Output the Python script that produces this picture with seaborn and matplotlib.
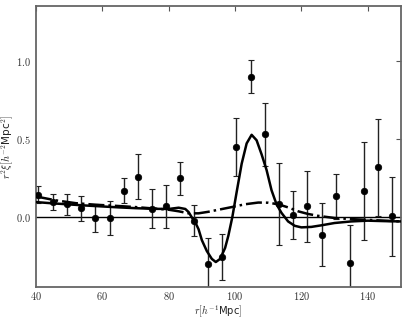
import matplotlib
matplotlib.use("Agg")
import matplotlib.pyplot as plt
import seaborn as sns
import pandas as pd
from matplotlib.ticker import FuncFormatter

# Data points with error bars
r_data = [40.6, 45.0, 49.2, 53.5, 57.9, 62.2, 66.4, 70.7, 74.9, 79.2, 83.5, 87.7, 91.9,
          96.2, 100.4, 104.7, 109.0, 113.2, 117.5, 121.8, 126.1, 130.3, 134.6, 138.9, 143.2, 147.4]
xi_data = [0.14, 0.094, 0.081, 0.055, -0.008, -0.008, 0.168, 0.257, 0.051, 0.066, 0.246, -0.025, -0.301,
           -0.257, 0.446, 0.898, 0.527, 0.081, 0.013, 0.066, -0.115, 0.13, -0.295, 0.165, 0.317, 0.002]
xi_err = [0.055, 0.05, 0.067, 0.08, 0.09, 0.11, 0.078, 0.145, 0.124, 0.135, 0.105, 0.1, 0.165,
          0.149, 0.185, 0.105, 0.2, 0.265, 0.155, 0.225, 0.2, 0.143, 0.245, 0.315, 0.31, 0.255]

# Solid model curve
r_solid = [40, 45, 50, 55, 60, 65, 70, 75, 80, 83, 85, 86, 87, 88, 89, 90, 91.5, 93, 94.2, 95.5,
           97, 98, 99.2, 100.5, 102, 103.5, 105, 106.5, 108, 109.5, 111, 112.5, 114, 116, 118,
           120, 123, 126, 130, 135, 140, 145, 150]
xi_solid = [0.094, 0.086, 0.079, 0.072, 0.066, 0.06, 0.055, 0.051, 0.05, 0.058, 0.05, 0.03, -0.005,
            -0.035, -0.08, -0.15, -0.22, -0.27, -0.29, -0.27, -0.2, -0.12, 0.0, 0.16, 0.34, 0.47,
            0.525, 0.49, 0.4, 0.3, 0.17, 0.08, 0.025, -0.03, -0.058, -0.068, -0.065, -0.055,
            -0.04, -0.03, -0.025, -0.028, -0.03]

# Dash-dot model curve
r_dd = [40, 46, 52, 58, 64, 70, 76, 80, 83, 86, 89, 92, 95, 99, 103, 107, 110, 113, 116, 119,
        122, 125, 130, 135, 140, 145, 150]
xi_dd = [0.13, 0.105, 0.087, 0.077, 0.07, 0.062, 0.052, 0.045, 0.035, 0.022, 0.022, 0.032, 0.045,
         0.062, 0.08, 0.091, 0.09, 0.08, 0.06, 0.035, 0.018, 0.006, -0.008, -0.015, -0.02, -0.025, -0.03]

x_ticks = [40, 60, 80, 100, 120, 140]
y_ticks = [0.0, 0.5, 1.0]

sns.set_style("white")
plt.rcParams["mathtext.fontset"] = "cm"
plt.rcParams["font.family"] = ["DejaVu Sans"]

fig = plt.figure(figsize=(4.07, 3.18), dpi=100)
ax = fig.add_axes([0.0885, 0.0975, 0.8965, 0.8835])

df_pts = pd.DataFrame({"r": r_data, "xi": xi_data, "err": xi_err})
df_solid = pd.DataFrame({"r": r_solid, "xi": xi_solid})
df_dd = pd.DataFrame({"r": r_dd, "xi": xi_dd})

ax.axhline(0, color="black", lw=1.0, zorder=1)
ax.errorbar(df_pts["r"], df_pts["xi"], yerr=df_pts["err"], fmt="none", ecolor="#222222",
            elinewidth=1.0, capsize=2.2, capthick=0.8, zorder=2)
sns.lineplot(data=df_solid, x="r", y="xi", ax=ax, color="black", lw=1.8, zorder=3)
sns.lineplot(data=df_dd, x="r", y="xi", ax=ax, color="black", lw=1.8, linestyle="-.", zorder=3)
sns.scatterplot(data=df_pts, x="r", y="xi", ax=ax, color="black", s=22, edgecolor="black",
                linewidth=0.5, zorder=4)

ax.set_xlim(40, 150)
ax.set_ylim(-0.45, 1.35)
ax.set_xticks(x_ticks)
ax.set_yticks(y_ticks)
ax.xaxis.set_major_formatter(FuncFormatter(lambda v, p: f"${v:.0f}$"))
ax.yaxis.set_major_formatter(FuncFormatter(lambda v, p: f"${v:.1f}$"))
ax.tick_params(direction="in", length=3.5, width=0.8, color="#555555", labelsize=7.5,
               labelcolor="#333333", top=True, right=True)
ax.tick_params(axis="x", pad=2.5)
ax.tick_params(axis="y", pad=4)
for s in ax.spines.values():
    s.set_color("#666666")
    s.set_linewidth(1.3)

ax.set_xlabel(r"$r[h^{-1}$Mpc$]$", fontsize=7.2, color="#222222")
ax.set_ylabel(r"$r^2\xi[h^{-2}$Mpc$^2]$", fontsize=7.5, color="#222222")
ax.xaxis.set_label_coords(0.5, -0.058)
ax.yaxis.set_label_coords(-0.056, 0.5)

fig.savefig("out.png", dpi=100)
